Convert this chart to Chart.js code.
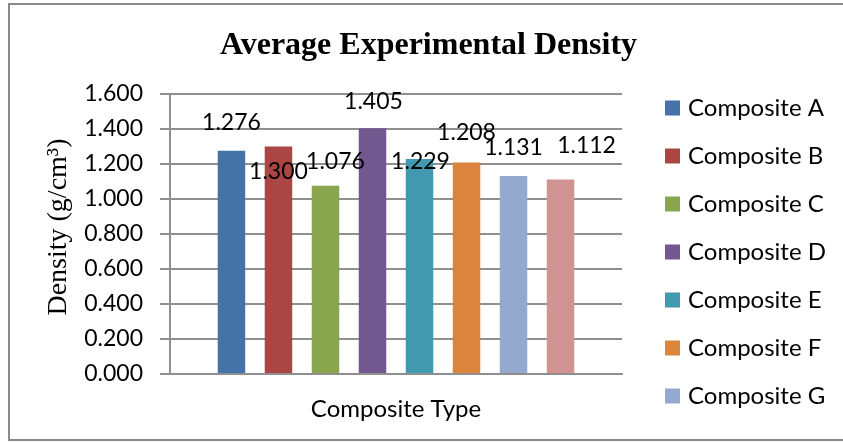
<!DOCTYPE html>
<html>
<head>
<meta charset="utf-8">
<title>Average Experimental Density</title>
<script src="https://cdn.jsdelivr.net/npm/chart.js@4/dist/chart.umd.min.js"></script>
<style>
  html, body { margin: 0; padding: 0; background: #ffffff; }
  canvas { display: block; }
</style>
</head>
<body>
<canvas id="densityChart" width="843" height="442"></canvas>
<script>
// Single category, one dataset per composite
const categories = [''];
const seriesNames = ['Composite A', 'Composite B', 'Composite C', 'Composite D',
                     'Composite E', 'Composite F', 'Composite G', 'Composite H'];
const densities = [1.276, 1.300, 1.076, 1.405, 1.229, 1.208, 1.131, 1.112];
const seriesColors = ['#4572A7', '#AA4643', '#89A54E', '#71588F',
                      '#4198AF', '#DB843D', '#93A9CF', '#D19392'];
const yTickValues = [0, 0.2, 0.4, 0.6, 0.8, 1.0, 1.2, 1.4, 1.6];

// Where each value label sits relative to the top centre of its bar (px)
const labelNudges = [[0, -28], [0, 25], [10, -24], [1, -27], [1, 3], [0, -30], [0, -28], [26, -34]];

const SANS = 'Lato, "Open Sans", sans-serif';
const SERIF = '"Liberation Serif", "Times New Roman", serif';
const GRID = '#8f8f8f';
const FRAME = { left: 9, top: 4, bottom: 440 };

// Grey frame around the whole chart
const framePlugin = {
  id: 'frame',
  beforeDraw(chart) {
    const ctx = chart.ctx;
    ctx.save();
    ctx.fillStyle = '#ffffff';
    ctx.fillRect(0, 0, chart.width, chart.height);
    ctx.restore();
  },
  afterDraw(chart) {
    const ctx = chart.ctx;
    ctx.save();
    ctx.strokeStyle = '#8a8a8a';
    ctx.lineWidth = 2;
    ctx.strokeRect(FRAME.left, FRAME.top, chart.width + 10, FRAME.bottom - FRAME.top);
    ctx.restore();
  }
};

// Value labels above the bars
const valueLabelPlugin = {
  id: 'valueLabels',
  afterDatasetsDraw(chart) {
    const ctx = chart.ctx;
    ctx.save();
    ctx.font = '23px ' + SANS;
    ctx.fillStyle = '#000000';
    ctx.textAlign = 'center';
    ctx.textBaseline = 'middle';
    chart.data.datasets.forEach((ds, i) => {
      const bar = chart.getDatasetMeta(i).data[0];
      if (!bar) return;
      const [dx, dy] = labelNudges[i];
      ctx.fillText(ds.data[0].toFixed(3), bar.x + dx, bar.y + dy);
    });
    ctx.restore();
  }
};

// Legend column registered as a layout box on the right of the plot;
// entries that would not fit inside the frame are left out
const sideLegendPlugin = {
  id: 'sideLegend',
  beforeInit(chart) {
    const box = {
      position: 'right',
      weight: 1000,
      fullSize: false,
      options: {},
      isHorizontal() { return false; },
      update(maxWidth, maxHeight) { this.width = 221; this.height = maxHeight; },
      draw() {
        const ctx = chart.ctx;
        const area = chart.chartArea;
        const x0 = this.left + 43;
        const y0 = area.top + 14;
        const rowGap = 48;
        ctx.save();
        ctx.font = '24px ' + SANS;
        ctx.textBaseline = 'middle';
        ctx.textAlign = 'left';
        chart.data.datasets.forEach((ds, i) => {
          const cy = y0 + i * rowGap;
          if (cy + 14 > FRAME.bottom) return;
          ctx.fillStyle = ds.backgroundColor;
          ctx.fillRect(x0, cy - 7.5, 15, 15);
          ctx.fillStyle = '#000000';
          ctx.fillText(ds.label, x0 + 23, cy);
        });
        ctx.restore();
      }
    };
    Chart.layouts.addBox(chart, box);
  }
};

const datasets = seriesNames.map((name, i) => ({
  label: name,
  data: [densities[i]],
  backgroundColor: seriesColors[i],
  borderWidth: 0,
  barPercentage: 0.585,
  categoryPercentage: 0.832
}));

new Chart(document.getElementById('densityChart'), {
  type: 'bar',
  data: { labels: categories, datasets },
  plugins: [framePlugin, valueLabelPlugin, sideLegendPlugin],
  options: {
    responsive: false,
    animation: false,
    devicePixelRatio: 1,
    layout: { padding: { left: 14, right: 0, top: 0, bottom: 0 } },
    plugins: {
      legend: { display: false },
      tooltip: { enabled: false },
      title: {
        display: true,
        text: 'Average Experimental Density',
        color: '#000000',
        font: { family: SERIF, size: 32, weight: 'bold', lineHeight: 1.2 },
        padding: { top: 27, bottom: 28.6 }
      }
    },
    scales: {
      x: {
        grid: { display: false },
        border: { display: true, color: GRID, width: 2 },
        ticks: { display: false },
        title: {
          display: true,
          text: 'Composite Type',
          color: '#000000',
          font: { family: SANS, size: 24, lineHeight: 1.2 },
          padding: { top: 0, bottom: 18 }
        },
        afterFit(scale) { scale.height = 68; }
      },
      y: {
        min: 0,
        max: 1.6,
        afterBuildTicks(scale) { scale.ticks = yTickValues.map(v => ({ value: v })); },
        ticks: {
          color: '#000000',
          font: { family: SANS, size: 23 },
          padding: 17,
          callback: v => Number(v).toFixed(3)
        },
        grid: { color: GRID, lineWidth: 2, drawTicks: true, tickLength: 10, tickColor: GRID },
        border: { display: true, color: GRID, width: 2 },
        title: {
          display: true,
          text: '\u2002Density (g/cm³)',
          color: '#000000',
          font: { family: SERIF, size: 28, lineHeight: 1.2 },
          padding: { top: 28, bottom: 0 }
        },
        afterFit(scale) { scale.width = 156; }
      }
    }
  }
});
</script>
</body>
</html>
